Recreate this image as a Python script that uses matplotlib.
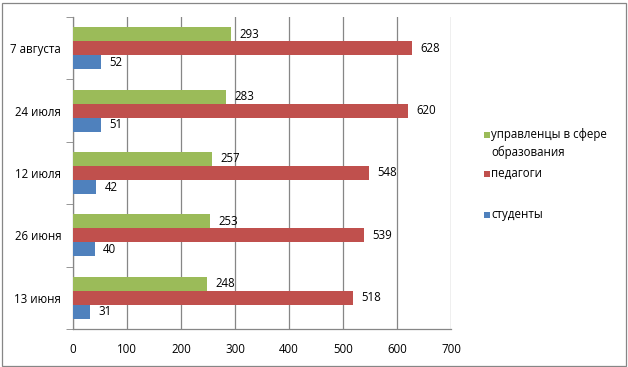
import matplotlib
matplotlib.use("Agg")
import matplotlib.pyplot as plt
from matplotlib.patches import Rectangle
import numpy as np

categories = ["13 июня", "26 июня", "12 июля", "24 июля", "7 августа"]
managers = [248, 253, 257, 283, 293]
teachers = [518, 539, 548, 620, 628]
students = [31, 40, 42, 51, 52]
series_names = ["управленцы в сфере\nобразования", "педагоги", "студенты"]
xticks = [0, 100, 200, 300, 400, 500, 600, 700]

c_green = "#9BBB59"
c_red = "#C0504D"
c_blue = "#4F81BD"

plt.rcParams['font.family'] = ['Open Sans', 'DejaVu Sans']
fs = 8.3

fig = plt.figure(figsize=(6.28, 3.67), dpi=100)
ax = fig.add_axes([73/628, 1-329/367, (451-73)/628, (329-17)/367])

y = np.arange(len(categories))
h = 0.225
series = [(managers, c_green, h), (teachers, c_red, 0), (students, c_blue, -h)]
for vals, col, off in series:
    bars = ax.barh(y + off, vals, height=h, color=col, zorder=3)
    for b, v in zip(bars, vals):
        ax.text(v + 16, b.get_y() + b.get_height()/2, str(v), va='center', ha='left',
                fontsize=fs, zorder=4)

ax.set_xlim(0, 700)
ax.set_ylim(-0.5, len(categories) - 0.5)
ax.set_xticks(xticks)
ax.set_xticklabels([str(t) for t in xticks], fontsize=fs)
ax.set_yticks(y)
ax.set_yticklabels(categories, fontsize=fs)
ax.set_yticks(np.arange(-0.5, len(categories), 1), minor=True)
ax.tick_params(axis='y', which='major', length=0, pad=8.5)
ax.tick_params(axis='y', which='minor', length=5, color='#868686', direction='out')
ax.tick_params(axis='x', length=0, pad=10)
ax.grid(axis='x', color='#868686', linewidth=0.9, zorder=0)
for s in ['top', 'right']:
    ax.spines[s].set_visible(False)
for s in ['left', 'bottom']:
    ax.spines[s].set_color('#868686')
    ax.spines[s].set_linewidth(0.9)

# legend
W, H = 628, 367
leg = [(c_green, 135, series_names[0]), (c_red, 174, series_names[1]), (c_blue, 215, series_names[2])]
for col, ypix, name in leg:
    fig.patches.append(Rectangle((484/W, 1-(ypix+3)/H), 6/W, 6/H, transform=fig.transFigure,
                                 facecolor=col, edgecolor='none'))
    fig.text(491/W, 1-(ypix-7)/H, name, fontsize=fs, va='top', ha='left', linespacing=1.4)

# border
fig.patches.append(Rectangle((1.5/W, 1.5/H), 1-4/W, 1-4/H, transform=fig.transFigure,
                             facecolor='none', edgecolor='#868686', linewidth=0.9))

fig.savefig("out.png", dpi=100)
